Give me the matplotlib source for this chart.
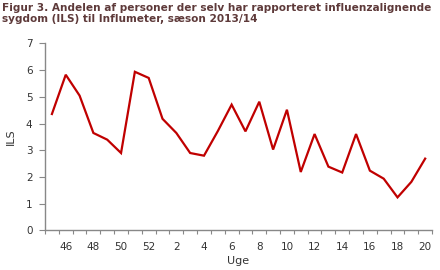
import matplotlib
matplotlib.use("Agg")
import matplotlib.pyplot as plt
import numpy as np

weeks = [45, 46, 47, 48, 49, 50, 51, 52, 1, 2, 3, 4, 5, 6, 7, 8, 9, 10,
         11, 12, 13, 14, 15, 16, 17, 18, 19, 20]
ils = [4.36, 5.83, 5.05, 3.65, 3.40, 2.90, 5.94, 5.71, 4.18, 3.65, 2.90, 2.80,
       3.72, 4.71, 3.71, 4.82, 3.03, 4.52, 2.19, 3.61, 2.39, 2.17, 3.61, 2.24,
       1.94, 1.24, 1.82, 2.69]
title = "Figur 3. Andelen af personer der selv har rapporteret influenzalignende\nsygdom (ILS) til Influmeter, sæson 2013/14"
x_label = "Uge"
y_label = "ILS"
y_ticks = [0, 1, 2, 3, 4, 5, 6, 7]

plt.rcParams['font.family'] = ['DejaVu Sans']
fig = plt.figure(figsize=(4.4, 2.7), dpi=100)
ax = fig.add_axes([0.1023, 0.1463, 0.8797, 0.6927])

n = len(weeks)
x = np.arange(n) + 0.5
ax.plot(x, ils, color="#c00000", lw=1.6, solid_joinstyle="miter")

ax.set_xlim(0, n)
ax.set_ylim(0, 7)
ax.set_yticks(y_ticks)
ax.set_xticks(np.arange(n + 1))
ax.set_xticklabels([])
ax.set_xticks(x[1::2], minor=True)
ax.set_xticklabels([str(w) for w in weeks[1::2]], minor=True)
ax.tick_params(axis="x", which="minor", length=0, pad=8, labelsize=7.5, labelcolor="#333333")
ax.tick_params(axis="x", which="major", length=3, direction="out", color="#888888")
ax.tick_params(axis="y", length=4, direction="out", color="#888888", labelsize=7.5,
               labelcolor="#333333", pad=5)

for s in ["top", "right"]:
    ax.spines[s].set_visible(False)
for s in ["left", "bottom"]:
    ax.spines[s].set_color("#888888")
    ax.spines[s].set_linewidth(1.0)

ax.set_xlabel(x_label, fontsize=8, color="#333333", labelpad=3)
ax.set_ylabel(y_label, fontsize=8, color="#333333", labelpad=7)

fig.text(0.004, 0.99, title, ha="left", va="top", fontsize=7.6, fontweight="bold",
         color="#5e3a3a", linespacing=1.15)

fig.savefig("out.png", dpi=100)
